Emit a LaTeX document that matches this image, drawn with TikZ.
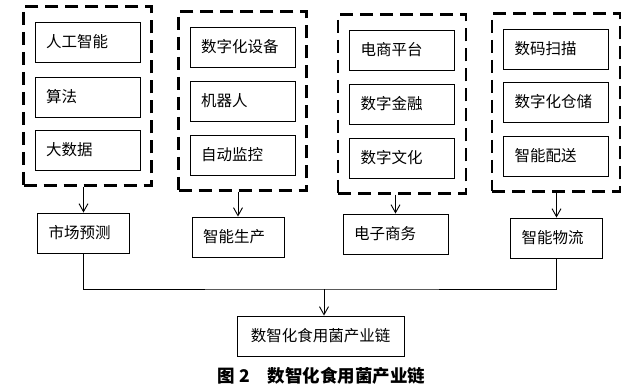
\documentclass[tikz,border=0pt]{standalone}
\usepackage{fontspec}
\setmainfont{Noto Sans CJK SC}
\usetikzlibrary{
  positioning,
  arrows.meta,
  fit,
  calc
}

\begin{document}
\begin{tikzpicture}[
  x=1pt, y=-1pt,
  cell/.style={draw, line width=0.9pt, minimum height=40pt, inner xsep=11pt,
               text width=83pt, align=left, font=\fontsize{15.5}{18}\selectfont},
  stage/.style={cell, text width=70pt},
  group/.style={draw, line width=2.4pt, dash pattern=on 13pt off 7pt,
                inner xsep=11pt, inner ysep=15pt},
  arr/.style={-{Straight Barb[length=8pt, width=9pt]}, line width=0.9pt},
  link/.style={line width=0.9pt},
]
  \useasboundingbox (0,0) rectangle (631,390);

  % Four technology groups (TOP)
  \node[cell] (ai)      at (87.5, 42)  {人工智能};
  \node[cell] (algo)    at (87.5, 97)  {算法};
  \node[cell] (bigdata) at (87.5, 150) {大数据};

  \node[cell] (device)  at (242.5, 47)  {数字化设备};
  \node[cell] (robot)   at (242.5, 101) {机器人};
  \node[cell] (monitor) at (242.5, 155) {自动监控};

  \node[cell] (platform) at (402, 50)  {电商平台};
  \node[cell] (finance)  at (402, 104) {数字金融};
  \node[cell] (culture)  at (402, 158) {数字文化};

  \node[cell] (scan)     at (556, 49)  {数码扫描};
  \node[cell] (storage)  at (556, 102) {数字化仓储};
  \node[cell] (delivery) at (556, 156) {智能配送};

  \node[group, fit=(ai)(bigdata)] (g1) {};
  \node[group, fit=(device)(monitor)] (g2) {};
  \node[group, fit=(platform)(culture)] (g3) {};
  \node[group, fit=(scan)(delivery)] (g4) {};

  % Stages of the chain (MIDDLE)
  \node[stage] (market) at (83.5, 233)  {市场预测};
  \node[stage] (produce) at (238, 237)  {智能生产};
  \node[stage, text width=83pt] (ecom) at (395.5, 234) {电子商务};
  \node[stage] (logistics) at (556.5, 238) {智能物流};

  \draw[arr] (g1.south -| market.north) -- (market.north);
  \draw[arr] (g2.south -| produce.north) -- (produce.north);
  \draw[arr] (g3.south -| ecom.north) -- (ecom.north);
  \draw[arr] (g4.south -| logistics.north) -- (logistics.north);

  % Result (BOTTOM)
  \node[draw, line width=0.9pt, minimum width=167pt, minimum height=40pt,
        font=\fontsize{15.5}{18}\selectfont] (chain) at (320.5, 336) {数智化食用菌产业链};
  \coordinate (bus) at (324, 289);

  \draw[link] (market.south) |- (bus) -| (logistics.south);
  \draw[arr] (bus) -- (bus |- chain.north);

  \node[font=\fontsize{17.5}{20}\selectfont\bfseries] (caption) at (321.5, 376)
    {图 2\quad 数智化食用菌产业链};
\end{tikzpicture}
\end{document}
